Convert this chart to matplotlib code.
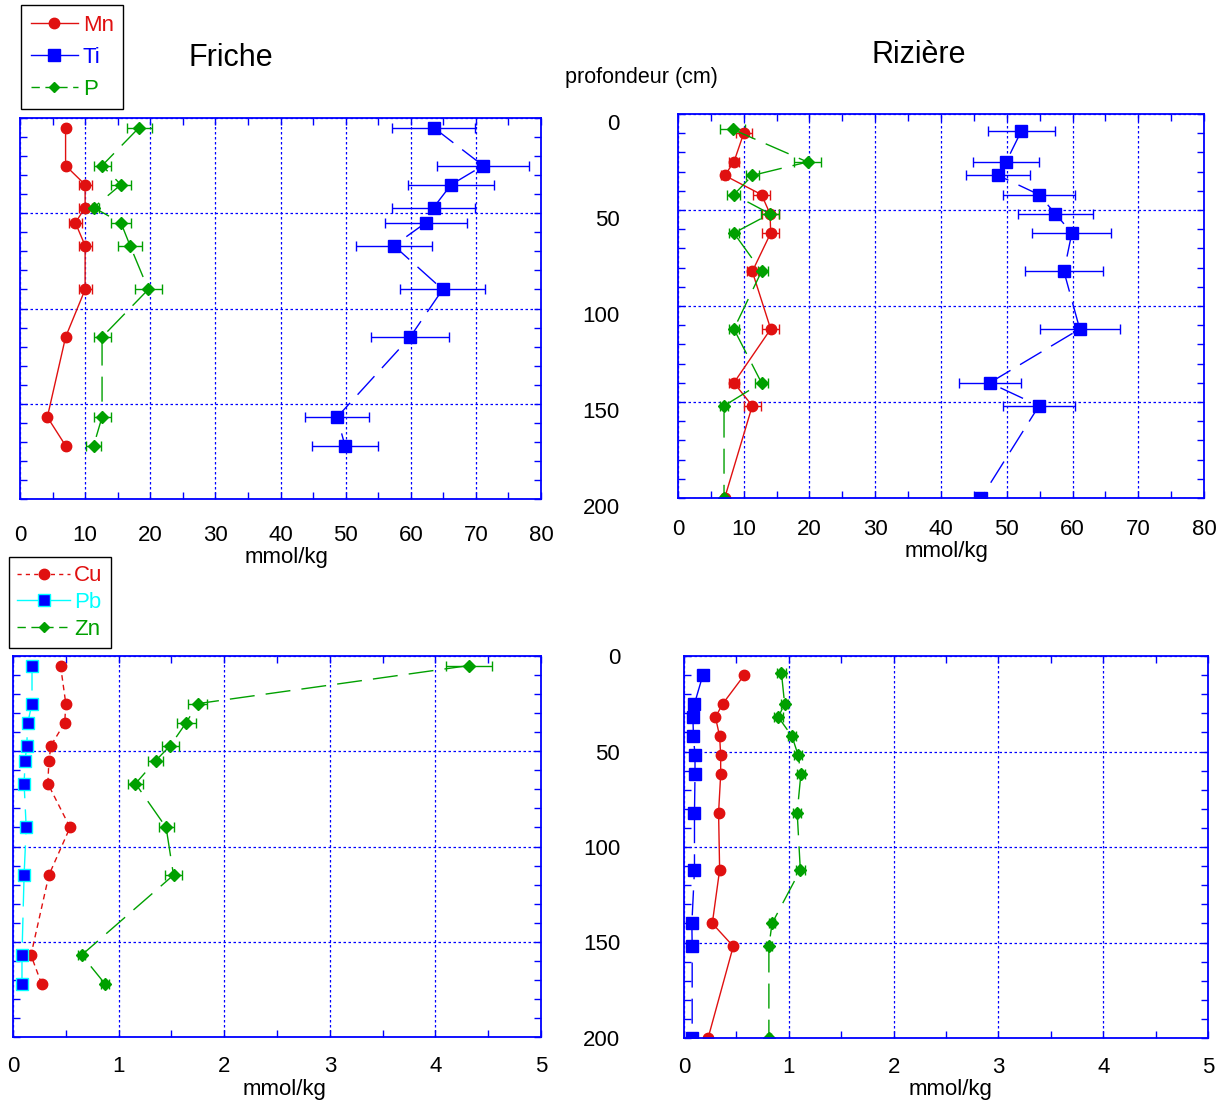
import matplotlib
matplotlib.use("Agg")
import matplotlib.pyplot as plt
from matplotlib.lines import Line2D
from matplotlib.ticker import MultipleLocator
import matplotlib.transforms as mtransforms

plt.rcParams['font.family'] = ['Liberation Sans', 'DejaVu Sans']

# ---------------- data ----------------
# Friche (top-left) : depth (cm), Mn, Ti, P (mmol/kg)
depth_fr = [5, 25, 35, 47, 55, 67, 90, 115, 157, 172]
mn_fr = [7.0, 7.0, 10.0, 10.0, 8.5, 10.0, 10.0, 7.0, 4.2, 7.0]
mn_fr_err = [0.3, 0.3, 1.0, 1.0, 1.0, 1.0, 1.0, 0.3, 0.3, 0.3]
ti_fr = [63.5, 71.1, 66.2, 63.5, 62.3, 57.4, 64.9, 59.9, 48.7, 49.9]
ti_fr_err = [6.4, 7.1, 6.6, 6.4, 6.3, 5.8, 6.5, 6.0, 4.9, 5.0]
p_fr = [18.3, 12.6, 15.5, 11.3, 15.5, 16.9, 19.7, 12.6, 12.6, 11.3]
p_fr_err = [1.9, 1.3, 1.6, 0.9, 1.6, 1.8, 2.1, 1.3, 1.3, 1.2]

# Rizière (top-right)
depth_rz = [10, 25, 32, 42, 52, 62, 82, 112, 140, 152, 200]
depth_rz_p = [8, 25, 32, 42, 52, 62, 82, 112, 140, 152, 200]
depth_rz_ti = [9, 25, 32, 42, 52, 62, 82, 112, 140, 152, 200]
mn_rz = [10.0, 8.5, 7.1, 12.7, 14.0, 14.1, 11.3, 14.1, 8.5, 11.3, 7.1]
mn_rz_err = [1.2, 0.8, 0.5, 1.3, 1.3, 1.3, 0.8, 1.3, 0.8, 1.3, 0.3]
p_rz = [8.3, 19.7, 11.3, 8.5, 14.0, 8.5, 12.7, 8.5, 12.7, 7.0, 7.0]
p_rz_err = [1.9, 2.0, 1.0, 1.0, 1.4, 0.8, 1.0, 0.8, 1.0, 0.6, 0.3]
ti_rz = [52.2, 49.9, 48.7, 54.9, 57.4, 59.9, 58.7, 61.1, 47.4, 54.9, 46.1]
ti_rz_err = [5.1, 5.0, 4.9, 5.5, 5.7, 6.0, 5.9, 6.1, 4.7, 5.5, 0.0]

# Friche (bottom-left) : Cu, Pb, Zn
cu_fr = [0.45, 0.50, 0.49, 0.36, 0.34, 0.33, 0.54, 0.34, 0.17, 0.27]
pb_fr = [0.18, 0.18, 0.14, 0.13, 0.115, 0.105, 0.125, 0.105, 0.085, 0.085]
zn_fr = [4.32, 1.75, 1.64, 1.49, 1.35, 1.16, 1.45, 1.52, 0.65, 0.87]
zn_fr_err = [0.22, 0.09, 0.09, 0.08, 0.07, 0.07, 0.07, 0.08, 0.03, 0.04]

# Rizière (bottom-right)
depth_rz_cu = [10, 25, 32, 42, 52, 62, 82, 112, 140, 152, 200]
depth_rz_zn = [9, 25, 32, 42, 52, 62, 82, 112, 140, 152, 200]
cu_rz = [0.575, 0.37, 0.30, 0.34, 0.35, 0.35, 0.33, 0.34, 0.27, 0.47, 0.23]
pb_rz = [0.18, 0.10, 0.085, 0.09, 0.105, 0.105, 0.10, 0.10, 0.075, 0.078, 0.078]
zn_rz = [0.93, 0.96, 0.90, 1.03, 1.09, 1.115, 1.08, 1.11, 0.84, 0.81, 0.81]
zn_rz_err = [0.04, 0.03, 0.04, 0.04, 0.04, 0.04, 0.04, 0.04, 0.03, 0.03, 0.02]

depth_ticks = [0, 50, 100, 150, 200]
top_xticks = [0, 10, 20, 30, 40, 50, 60, 70, 80]
bot_xticks = [0, 1, 2, 3, 4, 5]

# ---------------- style ----------------
RED = '#E01010'
BLUE = '#0000FF'
GREEN = '#00A000'
CYAN = '#00FFFF'
LONG = (0, (18, 8))
SHORT = (0, (4, 3))

W, H = 1226, 1104
fig = plt.figure(figsize=(W / 100, H / 100), dpi=100)


def box(x0, y0, x1, y1):
    return [x0 / W, 1 - y1 / H, (x1 - x0) / W, (y1 - y0) / H]


def style_axes(ax, xmax, xmajor, xminor, xpad, show_y, ypad=0, yshift=0):
    ax.set_xlim(0, xmax)
    ax.set_ylim(200, 0)
    ax.xaxis.set_major_locator(MultipleLocator(xmajor))
    ax.xaxis.set_minor_locator(MultipleLocator(xminor))
    ax.yaxis.set_major_locator(MultipleLocator(50))
    ax.yaxis.set_minor_locator(MultipleLocator(10))
    for s in ax.spines.values():
        s.set_color(BLUE)
        s.set_linewidth(1.3)
    ax.tick_params(which='both', direction='in', top=True, right=True,
                   color=BLUE, width=1.0)
    ax.tick_params(which='major', length=5)
    ax.tick_params(which='minor', length=5)
    ax.tick_params(axis='x', labelsize=16, pad=xpad)
    ax.grid(True, which='major', color=BLUE, linestyle=(0, (2, 2)),
            linewidth=0.9)
    if show_y:
        ax.tick_params(axis='y', labelsize=16, pad=ypad)
        if yshift:
            off = mtransforms.ScaledTranslation(0, -yshift / 100,
                                                fig.dpi_scale_trans)
            for lab in ax.get_yticklabels():
                lab.set_transform(lab.get_transform() + off)
    else:
        ax.tick_params(axis='y', labelleft=False)


def eb(ax, x, y, xerr, color, ls, marker, ms, mfc=None, mec=None):
    kw = dict(xerr=xerr) if xerr is not None else {}
    ax.errorbar(x, y, color=color, linestyle=ls, linewidth=1.0,
                marker=marker, markersize=ms,
                markerfacecolor=mfc or color, markeredgecolor=mec or color,
                ecolor=color, elinewidth=1.0, capsize=3.5, capthick=1.0,
                **kw)


# Top-left : Friche
ax1 = fig.add_axes(box(20, 118, 541, 499))
eb(ax1, mn_fr, depth_fr, mn_fr_err, RED, '-', 'o', 7.5)
eb(ax1, ti_fr, depth_fr, ti_fr_err, BLUE, LONG, 's', 8)
eb(ax1, p_fr, depth_fr, p_fr_err, GREEN, LONG, 'D', 6)
ax1.set_xticks(top_xticks)
style_axes(ax1, 80, 10, 5, 19, False)

# Top-right : Rizière
ax2 = fig.add_axes(box(678, 114, 1204, 498))
eb(ax2, mn_rz, depth_rz, mn_rz_err, RED, '-', 'o', 7.5)
eb(ax2, ti_rz, depth_rz_ti, ti_rz_err, BLUE, LONG, 's', 8)
eb(ax2, p_rz, depth_rz_p, p_rz_err, GREEN, LONG, 'D', 6)
ax2.set_xticks(top_xticks)
ax2.set_yticks(depth_ticks)
style_axes(ax2, 80, 10, 5, 15, True, ypad=42, yshift=8)

# Bottom-left : Friche
ax3 = fig.add_axes(box(13, 656, 541, 1037))
eb(ax3, cu_fr, depth_fr, None, RED, SHORT, 'o', 7.5)
eb(ax3, pb_fr, depth_fr, None, CYAN, LONG, 's', 8, mfc=BLUE, mec=CYAN)
eb(ax3, zn_fr, depth_fr, zn_fr_err, GREEN, LONG, 'D', 6)
ax3.set_xticks(bot_xticks)
style_axes(ax3, 5, 1, 0.5, 14, False)

# Bottom-right : Rizière
ax4 = fig.add_axes(box(684, 656, 1208, 1038))
eb(ax4, cu_rz, depth_rz_cu, None, RED, '-', 'o', 7.5)
eb(ax4, pb_rz, depth_rz, None, BLUE, LONG, 's', 8)
eb(ax4, zn_rz, depth_rz_zn, zn_rz_err, GREEN, LONG, 'D', 6)
ax4.set_xticks(bot_xticks)
ax4.set_yticks(depth_ticks)
style_axes(ax4, 5, 1, 0.5, 14, True, ypad=46)

# Texts
def ftext(x, y, s, size, **kw):
    fig.text(x / W, 1 - y / H, s, fontsize=size, ha='center', va='center', **kw)

ftext(231, 58, 'Friche', 22)
ftext(919, 55, 'Rizière', 22)
ftext(641, 78, 'profondeur (cm)', 15.5)
ftext(287, 557, 'mmol/kg', 16)
ftext(947, 551, 'mmol/kg', 16)
ftext(285, 1090, 'mmol/kg', 16)
ftext(950, 1090, 'mmol/kg', 16)

# Legends
h_top = [Line2D([], [], color=RED, ls='-', marker='o', ms=7.5, lw=1),
         Line2D([], [], color=BLUE, ls='-', marker='s', ms=8, lw=1),
         Line2D([], [], color=GREEN, ls=(0, (6, 4)), marker='D', ms=5, lw=1)]
leg1 = fig.legend(h_top, ['Mn', 'Ti', 'P'], loc='upper left',
                  bbox_to_anchor=(21 / W, 1 - 5 / H), fontsize=16,
                  frameon=True, fancybox=False, edgecolor='black',
                  framealpha=1, handlelength=2.15, handletextpad=0.2,
                  labelspacing=0.5, borderpad=0.43, borderaxespad=0)
leg1.get_frame().set_linewidth(1.0)
for t, c in zip(leg1.get_texts(), [RED, BLUE, GREEN]):
    t.set_color(c)

h_bot = [Line2D([], [], color=RED, ls=(0, (3, 3)), marker='o', ms=7.5, lw=1),
         Line2D([], [], color=CYAN, ls='-', marker='s', ms=8, lw=1,
                markerfacecolor=BLUE, markeredgecolor=CYAN),
         Line2D([], [], color=GREEN, ls=(0, (6, 4)), marker='D', ms=5, lw=1)]
leg2 = fig.legend(h_bot, ['Cu', 'Pb', 'Zn'], loc='upper left',
                  bbox_to_anchor=(9 / W, 1 - 557 / H), fontsize=16,
                  frameon=True, fancybox=False, edgecolor='black',
                  framealpha=1, handlelength=2.36, handletextpad=0.2,
                  labelspacing=0.25, borderpad=0.38, borderaxespad=0)
leg2.get_frame().set_linewidth(1.0)
for t, c in zip(leg2.get_texts(), [RED, CYAN, GREEN]):
    t.set_color(c)

fig.savefig('out.png', dpi=100)
